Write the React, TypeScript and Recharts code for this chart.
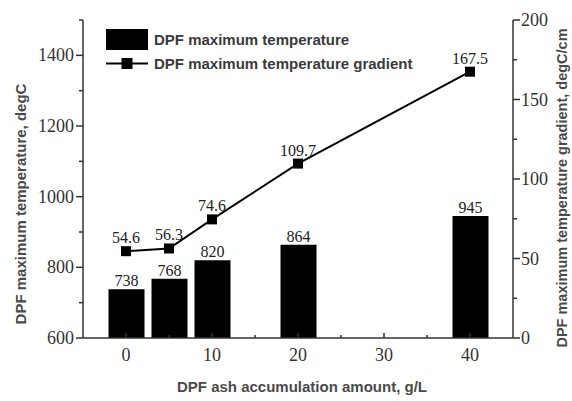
import React from 'react';
import { ComposedChart, Bar, Line, XAxis, YAxis, LabelList, Legend, Label } from 'recharts';

const ashAmounts = [0, 5, 10, 20, 40];
const maxTemperature = [738, 768, 820, 864, 945];
const maxGradient = [54.6, 56.3, 74.6, 109.7, 167.5];

const xTicks = [0, 5, 10, 15, 20, 25, 30, 35, 40];
const xMajorTicks = [0, 10, 20, 30, 40];
const leftTicks = [600, 700, 800, 900, 1000, 1100, 1200, 1300, 1400, 1500];
const leftMajorTicks = [600, 800, 1000, 1200, 1400];
const rightTicks = [0, 25, 50, 75, 100, 125, 150, 175, 200];
const rightMajorTicks = [0, 50, 100, 150, 200];

const barName = 'DPF maximum temperature';
const lineName = 'DPF maximum temperature gradient';
const xTitle = 'DPF ash accumulation amount, g/L';
const leftTitle = 'DPF maximum temperature, degC';
const rightTitle = 'DPF maximum temperature gradient, degC/cm';

const data = ashAmounts.map((x, i) => ({ x, temp: maxTemperature[i], grad: maxGradient[i] }));

const SERIF = 'Liberation Serif, Times New Roman, serif';
const SANS = 'Liberation Sans, Arial, sans-serif';
const AXIS = '#333';
const TICKTEXT = '#333';
const TITLE = '#4a4a4a';

const serifStyle = (size: number) => ({ fontFamily: SERIF, fontSize: size });
const titleStyle = { fontFamily: SANS, fontSize: 15, fontWeight: 'bold' as const };

const XTick = (props: any) => {
  const { x, y, payload } = props;
  const major = xMajorTicks.includes(payload.value);
  return (
    <g>
      <line x1={x} x2={x} y1={y} y2={y - (major ? 5 : 3)} stroke={AXIS} strokeWidth={1.5} />
      {major && (
        <text x={x} y={y + 23} textAnchor="middle" style={serifStyle(18)} fill={TICKTEXT}>
          {payload.value}
        </text>
      )}
    </g>
  );
};

const LeftTick = (props: any) => {
  const { x, y, payload } = props;
  const major = leftMajorTicks.includes(payload.value);
  return (
    <g>
      <line x1={x} x2={x - (major ? 7 : 4)} y1={y} y2={y} stroke={AXIS} strokeWidth={1.5} />
      {major && (
        <text x={x - 9} y={y + 6} textAnchor="end" style={serifStyle(18)} fill={TICKTEXT}>
          {payload.value}
        </text>
      )}
    </g>
  );
};

const RightTick = (props: any) => {
  const { x, y, payload } = props;
  const major = rightMajorTicks.includes(payload.value);
  return (
    <g>
      <line x1={x} x2={x + (major ? 7 : 4)} y1={y} y2={y} stroke={AXIS} strokeWidth={1.5} />
      {major && (
        <text x={x + 8} y={y + 6} textAnchor="start" style={serifStyle(18)} fill={TICKTEXT}>
          {payload.value}
        </text>
      )}
    </g>
  );
};

const SquareDot = (props: any) => {
  const { cx, cy } = props;
  if (cx == null || cy == null) return null;
  return <rect x={cx - 5} y={cy - 5} width={10} height={10} fill="#000" />;
};

const ValueLabel = (props: any) => {
  const { x, y, width, value, offset } = props;
  const cx = x + (width || 0) / 2;
  return (
    <text x={cx} y={y - offset} textAnchor="middle" style={serifStyle(16)} fill="#222">
      {value}
    </text>
  );
};

const LegendContent = () => (
  <div style={{ fontFamily: SANS, fontWeight: 'bold', fontSize: 15, color: '#3a3a3a', lineHeight: '23px' }}>
    <div style={{ display: 'flex', alignItems: 'center', height: 23 }}>
      <svg width={44} height={23} style={{ display: 'block' }}>
        <rect x={1} y={1} width={42} height={21} fill="#000" />
      </svg>
      <span style={{ marginLeft: 5 }}>{barName}</span>
    </div>
    <div style={{ display: 'flex', alignItems: 'center', height: 23, marginTop: 1 }}>
      <svg width={44} height={23} style={{ display: 'block' }}>
        <line x1={1} x2={43} y1={11.5} y2={11.5} stroke="#000" strokeWidth={2} />
        <rect x={16.5} y={6} width={11} height={11} fill="#000" />
      </svg>
      <span style={{ marginLeft: 5 }}>{lineName}</span>
    </div>
  </div>
);

const LeftTitle = (props: any) => {
  const vb = props.viewBox;
  const cx = vb.x;
  const cy = vb.y + vb.height / 2 + 25;
  return (
    <text x={cx} y={cy} transform={`rotate(-90 ${cx} ${cy})`} textAnchor="middle" dominantBaseline="central"
      style={titleStyle} fill={TITLE}>
      {leftTitle}
    </text>
  );
};

const RightTitle = (props: any) => {
  const vb = props.viewBox;
  const cx = vb.x + vb.width + 4;
  const cy = vb.y + vb.height / 2 + 9;
  return (
    <text x={cx} y={cy} transform={`rotate(-90 ${cx} ${cy})`} textAnchor="middle" dominantBaseline="central"
      style={{ ...titleStyle, fontSize: 14.5 }} fill={TITLE}>
      {rightTitle}
    </text>
  );
};

const XTitle = (props: any) => {
  const vb = props.viewBox;
  const cx = vb.x + vb.width / 2 + 4;
  const cy = vb.y + 54;
  return (
    <text x={cx} y={cy} textAnchor="middle" style={titleStyle} fill={TITLE}>
      {xTitle}
    </text>
  );
};

export default function App() {
  return (
    <div style={{ position: 'absolute', left: 0, top: 0, width: 572, height: 401, background: '#fff' }}>
      <ComposedChart width={572} height={401} data={data} margin={{ top: 20, right: 14, bottom: 33, left: 20 }}>
        <XAxis
          dataKey="x"
          type="number"
          domain={[-5, 45]}
          ticks={xTicks}
          interval={0}
          height={30}
          tickSize={0}
          tickMargin={0}
          tickLine={false}
          axisLine={{ stroke: AXIS, strokeWidth: 1.5 }}
          tick={<XTick />}
          allowDataOverflow
        >
          <Label content={<XTitle />} />
        </XAxis>
        <YAxis
          yAxisId="left"
          orientation="left"
          domain={[600, 1500]}
          ticks={leftTicks}
          interval={0}
          width={63}
          tickSize={0}
          tickMargin={0}
          tickLine={false}
          axisLine={{ stroke: AXIS, strokeWidth: 1.5 }}
          tick={<LeftTick />}
          allowDataOverflow
        >
          <Label content={<LeftTitle />} />
        </YAxis>
        <YAxis
          yAxisId="right"
          orientation="right"
          domain={[0, 200]}
          ticks={rightTicks}
          interval={0}
          width={45}
          tickSize={0}
          tickMargin={0}
          tickLine={false}
          axisLine={{ stroke: AXIS, strokeWidth: 1.5 }}
          tick={<RightTick />}
          allowDataOverflow
        >
          <Label content={<RightTitle />} />
        </YAxis>
        <Legend
          layout="horizontal"
          verticalAlign="middle"
          align="center"
          content={<LegendContent />}
          wrapperStyle={{ left: 105, top: 28, width: 'auto', height: 'auto' }}
        />
        <Bar yAxisId="left" dataKey="temp" name={barName} fill="#000" barSize={36} isAnimationActive={false}>
          <LabelList dataKey="temp" position="top" offset={3} content={<ValueLabel />} />
        </Bar>
        <Line
          yAxisId="right"
          dataKey="grad"
          name={lineName}
          stroke="#000"
          strokeWidth={2}
          dot={<SquareDot />}
          activeDot={false}
          isAnimationActive={false}
        >
          <LabelList dataKey="grad" position="top" offset={8} content={<ValueLabel />} />
        </Line>
      </ComposedChart>
    </div>
  );
}
